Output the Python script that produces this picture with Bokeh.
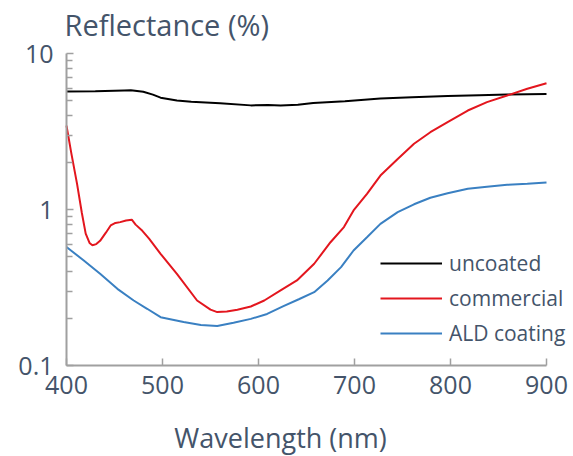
from bokeh.plotting import figure
from bokeh.models import (FixedTicker, CustomJSTickFormatter, Legend, LegendItem, Range1d, Label)
from bokeh.embed import file_html
from bokeh.resources import INLINE

# ---- data ----
unc_nm = [400, 430, 460, 467, 480, 490, 498, 515, 530, 560, 592, 610, 623, 641, 657, 690, 727, 760, 797, 830, 859, 900]
unc_r = [5.70, 5.72, 5.80, 5.81, 5.68, 5.45, 5.21, 5.00, 4.91, 4.80, 4.65, 4.67, 4.65, 4.70, 4.82, 4.95, 5.14, 5.25, 5.35, 5.40, 5.45, 5.50]

com_nm = [400, 405, 411, 416, 420, 424, 427, 431, 435, 441, 446, 451, 456, 462, 468, 472, 479, 486, 498, 515, 536, 550, 557, 567, 578, 592, 606, 623, 640, 658, 675, 689, 699, 713, 727, 745, 762, 779, 797, 818, 838, 859, 880, 900]
com_r = [3.45, 2.30, 1.46, 0.95, 0.70, 0.61, 0.59, 0.60, 0.63, 0.71, 0.79, 0.82, 0.83, 0.85, 0.86, 0.80, 0.73, 0.65, 0.52, 0.387, 0.261, 0.228, 0.220, 0.222, 0.228, 0.239, 0.261, 0.303, 0.351, 0.449, 0.617, 0.771, 0.986, 1.26, 1.65, 2.11, 2.64, 3.13, 3.63, 4.31, 4.88, 5.38, 5.94, 6.45]

ald_nm = [400, 418, 435, 453, 470, 484, 498, 522, 540, 557, 574, 592, 609, 626, 642, 658, 672, 686, 699, 713, 727, 745, 762, 779, 797, 818, 838, 859, 880, 900]
ald_r = [0.575, 0.471, 0.387, 0.310, 0.261, 0.231, 0.204, 0.190, 0.182, 0.179, 0.188, 0.199, 0.214, 0.240, 0.266, 0.295, 0.351, 0.427, 0.546, 0.664, 0.809, 0.961, 1.08, 1.19, 1.27, 1.36, 1.40, 1.44, 1.46, 1.49]

names = ["uncoated", "commercial", "ALD coating"]
colors = ["#000000", "#E3161E", "#3A80C2"]
x_ticks = [400, 500, 600, 700, 800, 900]
y_ticks = [0.1, 1, 10]
y_minor = [0.2, 0.3, 0.4, 0.5, 0.6, 0.7, 0.8, 0.9, 2, 3, 4, 5, 6, 7, 8, 9]

TXT = "#44546A"
AX = "#A0A0A0"
FONT = "Open Sans"

# ---- layout: the frame fills the whole canvas; axes sit at fixed data locations ----
W, H = 573, 456
AX_LEFT, AX_TOP, AX_BOTTOM = 66, 53, 365     # pixel spots of x=400, y=10, y=0.1
PX_PER_NM = 480 / 500
PX_PER_DEC = (AX_BOTTOM - AX_TOP) / 2
x_start = 400 - AX_LEFT / PX_PER_NM
x_end = 400 + (W - AX_LEFT) / PX_PER_NM
y_end = 10 * 10 ** (AX_TOP / PX_PER_DEC)
y_start = 0.1 / 10 ** ((H - AX_BOTTOM) / PX_PER_DEC)

p = figure(width=W, height=H, y_axis_type="log", output_backend="svg",
           toolbar_location=None, x_range=Range1d(x_start, x_end), y_range=Range1d(y_start, y_end),
           min_border=0)
p.outline_line_color = None
p.xgrid.visible = False
p.ygrid.visible = False

rs = []
for xs, ys, c in [(unc_nm, unc_r, colors[0]), (com_nm, com_r, colors[1]), (ald_nm, ald_r, colors[2])]:
    rs.append(p.line(xs, ys, line_color=c, line_width=2))

for ax in (p.xaxis[0], p.yaxis[0]):
    ax.axis_line_color = AX
    ax.axis_line_width = 2
    ax.major_tick_line_color = AX
    ax.major_tick_line_width = 1.5
    ax.minor_tick_line_color = AX
    ax.minor_tick_line_width = 1.5
    ax.major_tick_out = 0
    ax.major_tick_in = 7
    ax.minor_tick_out = 0
    ax.minor_tick_in = 6
    ax.major_label_text_color = TXT
    ax.major_label_text_font = FONT
    ax.major_label_text_font_size = "25px"

p.xaxis[0].ticker = FixedTicker(ticks=x_ticks)
p.xaxis[0].bounds = (400, 900)
p.xaxis[0].fixed_location = 0.1
p.xaxis[0].major_label_standoff = 10
p.yaxis[0].ticker = FixedTicker(ticks=y_ticks, minor_ticks=y_minor)
p.yaxis[0].formatter = CustomJSTickFormatter(code="return String(tick)")
p.yaxis[0].bounds = (0.1, 10)
p.yaxis[0].fixed_location = 400
p.yaxis[0].major_label_standoff = 13

title = Label(x=400, y=10, x_offset=-2, y_offset=29, text="Reflectance (%)", text_font=FONT,
              text_font_size="29px", text_color=TXT, text_align="left", text_baseline="alphabetic")
p.add_layout(title)
xlab = Label(x=623, y=0.1, y_offset=-72, text="Wavelength (nm)", text_font=FONT,
             text_font_size="27px", text_color=TXT, text_align="center", text_baseline="alphabetic")
p.add_layout(xlab)

legend = Legend(items=[LegendItem(label=n, renderers=[r]) for n, r in zip(names, rs)],
                location=(380, 109), background_fill_alpha=0, border_line_alpha=0,
                glyph_width=62, glyph_height=20, label_height=20, spacing=7,
                label_standoff=7, padding=0, margin=0,
                label_text_font=FONT, label_text_font_size="21px", label_text_color=TXT)
p.add_layout(legend)

open("out.html", "w").write(file_html(p, INLINE))
